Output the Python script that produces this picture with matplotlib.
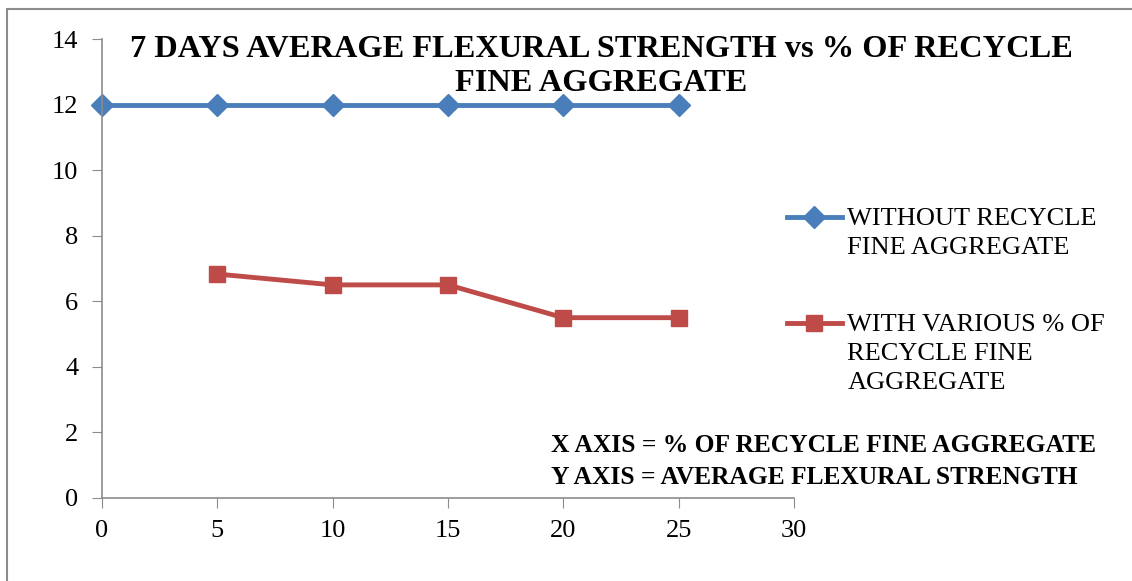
import numpy as np
import matplotlib.pyplot as plt
from matplotlib.patches import Rectangle

# data
pct = [0, 5, 10, 15, 20, 25]
without_rfa = [12, 12, 12, 12, 12, 12]
pct_rfa = [5, 10, 15, 20, 25]
with_rfa = [6.83, 6.5, 6.5, 5.5, 5.5]
xticks = [0, 5, 10, 15, 20, 25, 30]
yticks = [0, 2, 4, 6, 8, 10, 12, 14]

plt.rcParams['font.family'] = ['Liberation Serif', 'DejaVu Serif']

W, H = 1132, 581
fig = plt.figure(figsize=(W / 100, H / 100), dpi=100)

# outer chart frame
fig.patches.append(Rectangle((7 / W, -0.1), 1.2, (H - 9) / H + 0.1,
                             transform=fig.transFigure, fill=False,
                             edgecolor='#8c8c8c', linewidth=1.5))

ax = fig.add_axes([102 / W, (H - 498) / H, (794 - 102) / W, (498 - 39) / H])
ax.plot(pct, without_rfa, '-D', color='#4A7EBB', lw=3.5, ms=11,
        label='WITHOUT RECYCLE\nFINE AGGREGATE', clip_on=False)
ax.plot(pct_rfa, with_rfa, '-s', color='#BE4B48', lw=3.5, ms=12,
        label='WITH VARIOUS % OF\nRECYCLE FINE\nAGGREGATE', clip_on=False)

ax.set_xlim(0, 30)
ax.set_ylim(0, 14)
ax.set_xticks(xticks)
ax.set_yticks(yticks)
ax.tick_params(labelsize=19, length=7, color='#8c8c8c', direction='out')
ax.tick_params(axis='x', pad=9)
ax.tick_params(axis='y', pad=10)
for s in ['top', 'right']:
    ax.spines[s].set_visible(False)
for s in ['left', 'bottom']:
    ax.spines[s].set_color('#8c8c8c')
    ax.spines[s].set_linewidth(1.2)

fig.text(601 / W, 1 - 66.5 / H,
         '7 DAYS AVERAGE FLEXURAL STRENGTH vs % OF RECYCLE\nFINE AGGREGATE',
         ha='center', va='center', fontsize=23.3, fontweight='bold',
         linespacing=1.2)

leg = fig.legend(loc='upper left', bbox_to_anchor=(763 / W, 1 - 184 / H),
                 frameon=False, fontsize=19, handlelength=2.1,
                 handletextpad=0.2, labelspacing=2.1)
for t in leg.get_texts():
    t.set_linespacing(1.4)
# put the handle beside the first line of each label, as in the original
for col in leg._legend_handle_box.get_children():
    for item in col.get_children():
        item.align = 'top'

fig.text(551 / W, 1 - 462 / H,
         'X AXIS = % OF RECYCLE FINE AGGREGATE\nY AXIS = AVERAGE FLEXURAL STRENGTH',
         ha='left', va='center', fontsize=18.4, fontweight='bold', linespacing=1.5)

fig.savefig('out.png', dpi=100)
